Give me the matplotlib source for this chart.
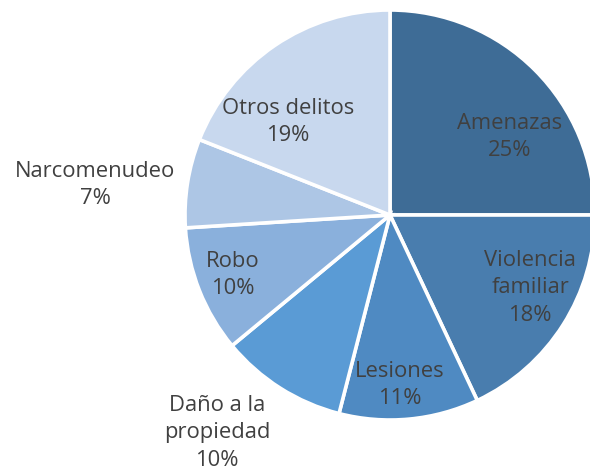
import matplotlib
matplotlib.use("Agg")
from matplotlib import pyplot as plt

# Data
categories = ["Amenazas", "Violencia\nfamiliar", "Lesiones", "Daño a la\npropiedad",
              "Robo", "Narcomenudeo", "Otros delitos"]
shares = [25, 18, 11, 10, 10, 7, 19]
colors = ["#3E6C96", "#497DAE", "#4F8AC2", "#5A9BD5", "#8AB0DC", "#ADC6E5", "#C8D8EE"]

# Label centres in pie units (radius = 1), as placed in the reference
label_pos = [(0.585, 0.38), (0.683, -0.356), (0.049, -0.829), (-0.844, -1.063),
             (-0.766, -0.293), (-1.439, 0.146), (-0.498, 0.454)]

plt.rcParams['font.family'] = ['Open Sans', 'DejaVu Sans']

fig = plt.figure(figsize=(5.9, 4.72), dpi=100)
ax = fig.add_axes([0, 0, 1, 1])

wedges, _ = ax.pie(shares, colors=colors, startangle=90, counterclock=False,
                   radius=1.0, wedgeprops=dict(edgecolor="white", linewidth=2.6))

for name, val, (x, y) in zip(categories, shares, label_pos):
    ax.text(x, y, f"{name}\n{val}%", ha="center", va="center", fontsize=15.8,
            color="#404040", linespacing=1.4)

ax.set_xlim(-390 / 205, 200 / 205)
ax.set_ylim(-257 / 205, 215 / 205)
ax.set_aspect("auto")
ax.axis("off")

fig.savefig("out.png", dpi=100)
